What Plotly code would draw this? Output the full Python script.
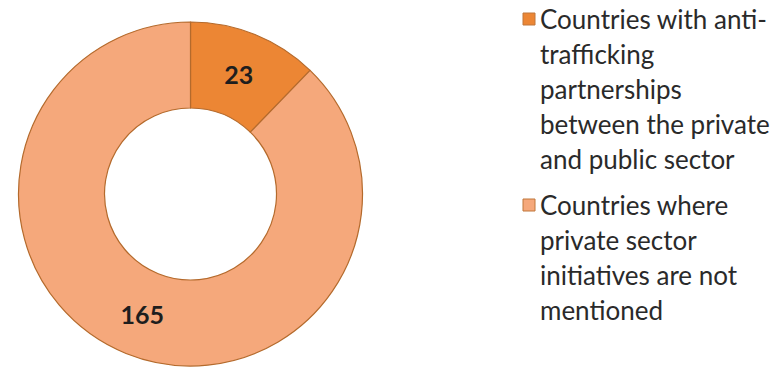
import plotly.graph_objects as go

# Donut data
categories = [
    "Countries with anti-trafficking partnerships between the private and public sector",
    "Countries where private sector initiatives are not mentioned",
]
values = [23, 165]
slice_colors = ["#EC8634", "#F5A87B"]

# Legend text, wrapped line by line
legend_lines = [
    ["Countries with anti-", "trafficking", "partnerships", "between the private", "and public sector"],
    ["Countries where", "private sector", "initiatives are not", "mentioned"],
]

W, H = 778, 374

fig = go.Figure()
fig.add_trace(go.Pie(
    labels=categories,
    values=values,
    hole=0.5,
    sort=False,
    direction="clockwise",
    rotation=0,
    marker=dict(colors=slice_colors, line=dict(color="#B46A2C", width=1.2)),
    texttemplate="%{value}",
    textposition="inside",
    insidetextorientation="horizontal",
    textfont=dict(family="Lato", size=25, color="#1E1E1E", weight="bold"),
    domain=dict(x=[15 / W, 366 / W], y=[(H - 366) / H, (H - 22) / H]),
    showlegend=False,
    hoverinfo="label+value",
))

# Hand-laid legend: colour swatch plus wrapped text lines
annotations = []
shapes = []
line_step = 35
item_tops = [19, 205]
for i, lines in enumerate(legend_lines):
    y0 = item_tops[i]
    shapes.append(dict(
        type="rect", xref="paper", yref="paper",
        x0=523 / W, x1=535 / W,
        y0=1 - (y0 + 6) / H, y1=1 - (y0 - 6) / H,
        fillcolor=slice_colors[i], line=dict(color="#C0773A", width=1),
    ))
    for j, txt in enumerate(lines):
        annotations.append(dict(
            x=538 / W, y=1 - (y0 + j * line_step) / H,
            xref="paper", yref="paper",
            xanchor="left", yanchor="middle",
            text=txt, showarrow=False,
            font=dict(family="Lato", size=26, color="#2A2A2A"),
        ))

fig.update_layout(
    width=W, height=H,
    margin=dict(l=0, r=0, t=0, b=0),
    paper_bgcolor="white",
    plot_bgcolor="white",
    annotations=annotations,
    shapes=shapes,
)

fig.write_html("out.html")
